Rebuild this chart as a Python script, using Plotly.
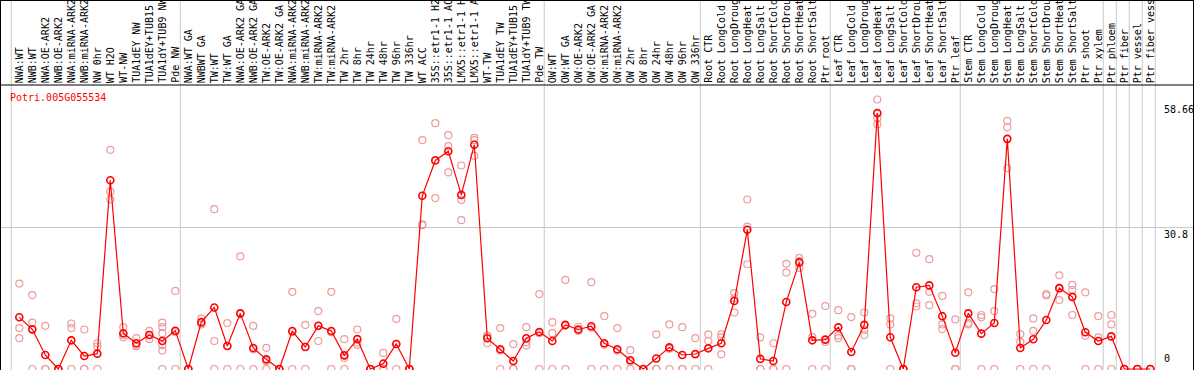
import plotly.graph_objects as go

# ---------------- data ----------------
gene_id = "Potri.005G055534"

labels = [
    "NWA:WT", "NWB:WT", "NWA:OE-ARK2", "NWB:OE-ARK2", "NWA:miRNA-ARK2", "NWB:miRNA-ARK2",
    "NW 0hr", "WT H2O", "WT-NW", "TUA1dEY NW", "TUA1dEY+TUB15", "TUA1dY+TUB9 NW", "Pde NW",
    "NWA:WT GA", "NWBWT GA", "TW:WT", "TW:WT GA", "NWA:OE-ARK2 GA", "NWB:OE-ARK2 GA",
    "TW:OE-ARK2", "TW:OE-ARK2 GA", "NWA:miRNA-ARK2", "NWB:miRNA-ARK2", "TW:miRNA-ARK2",
    "TW:miRNA-ARK2", "TW 2hr", "TW 8hr", "TW 24hr", "TW 48hr", "TW 96hr", "TW 336hr",
    "WT ACC", "35S::etr1-1 H2O", "35S::etr1-1 ACC", "LMX5::etr1-1 H2O", "LMX5::etr1-1 ACC",
    "WT-TW", "TUA1dEY TW", "TUA1dEY+TUB15", "TUA1dY+TUB9 TW", "Pde TW",
    "OW:WT", "OW:WT GA", "OW:OE-ARK2", "OW:OE-ARK2 GA", "OW:miRNA-ARK2", "OW:miRNA-ARK2",
    "OW 2hr", "OW 8hr", "OW 24hr", "OW 48hr", "OW 96hr", "OW 336hr",
    "Root CTR", "Root LongCold", "Root LongDrought", "Root LongHeat", "Root LongSalt",
    "Root ShortCold", "Root ShortDrought", "Root ShortHeat", "Root ShortSalt", "Ptr root",
    "Leaf CTR", "Leaf LongCold", "Leaf LongDrought", "Leaf LongHeat", "Leaf LongSalt",
    "Leaf ShortCold", "Leaf ShortDrought", "Leaf ShortHeat", "Leaf ShortSalt", "Ptr leaf",
    "Stem CTR", "Stem LongCold", "Stem LongDrought", "Stem LongHeat", "Stem LongSalt",
    "Stem ShortCold", "Stem ShortDrought", "Stem ShortHeat", "Stem ShortSalt", "Ptr shoot",
    "Ptr xylem", "Ptr phloem", "Ptr fiber", "Ptr vessel", "Ptr fiber vessel",
]

group_sizes = [13, 28, 12, 10, 10, 11, 1, 1, 1, 1]

means = [
    11.25, 8.63, 3.05, 0, 6.24, 2.83, 3.34, 41.1, 7.77, 5.59, 7.4, 6.1, 8.34, 0,
    10.2, 13.4, 5.0, 12.1, 4.57, 2.1, 0, 8.27, 4.8, 9.4, 8.27, 2.97, 6.5, 0, 1.16,
    5.44, 0, 37.7, 45.4, 47.4, 37.9, 48.8, 6.68, 4.3, 1.74, 6.68, 8.05, 6.1, 9.6, 8.6,
    9.3, 5.6, 4.3, 1.9, 0, 2.3, 4.7, 3.05, 3.27, 4.5, 5.6, 14.8, 30.3, 2.2, 1.74,
    14.6, 23.2, 6.24, 6.4, 9.07, 3.7, 9.6, 55.7, 6.9, 0, 17.8, 18.2, 11.5, 3.55, 12.1,
    7.7, 10.0, 50.1, 4.57, 6.46, 10.67, 17.6, 15.7, 8.0, 6.1, 7.1, 0, 0, 0,
]

replicates = [
    [18.6, 8.9, 6.7], [16.1, 10.1, 0], [9.4, 0, 0], [0, 0, 0], [9.9, 8.9, 0],
    [8.6, 0, 0], [5.6, 4.9, 0], [47.7, 38.6, 36.9], [9.1, 7.4, 6.9], [6.7, 5.2, 4.9],
    [8.3, 7.4, 6.5], [10.1, 9.1, 7.8, 5.2, 4.0, 0], [17.0, 8.0, 0], [0, 0, 0],
    [11.0, 9.7, 9.9], [34.8, 6.1, 0], [10.0, 5.0, 0], [24.5, 12.0, 0], [9.4, 4.3, 0],
    [4.6, 1.7, 0], [0, 0, 0], [16.8, 8.0, 0], [9.6, 4.8, 0], [12.6, 9.4, 6.1],
    [16.8, 8.0, 0], [6.5, 2.4, 0], [8.6, 5.7, 5.2], [0, 0, 0], [3.5, 0, 0],
    [10.9, 5.4, 0], [0, 0, 0], [49.8, 31.5, 31.3], [53.5, 45.5, 37.2], [50.9, 48.5, 42.8],
    [44.3, 36.8, 32.4], [50.3, 49.8, 46.4], [7.25, 7.2, 5.6], [8.9, 4.0, 0], [5.4, 0, 0],
    [9.1, 5.8, 5.1], [16.3, 7.8, 0], [10.2, 7.8, 0], [19.4, 9.4, 0], [9.2, 8.4, 8.3],
    [18.9, 9.0, 0], [11.5, 5.3, 0], [8.9, 4.0, 0], [4.1, 1.6, 0], [0, 0, 0],
    [7.55, 0, 0], [9.7, 4.4, 0], [9.1, 0, 0], [6.7, 3.1, 0], [7.55, 6.1, 0],
    [7.55, 6.9, 3.2], [16.5, 15.4, 12.3], [36.9, 31.0, 22.8], [6.9, 0, 0], [5.6, 0, 0],
    [22.9, 21.0, 0], [24.2, 23.5, 22.0], [12.0, 7.0, 0], [13.7, 5.9, 0], [12.8, 7.25, 6.7],
    [11.3, 0, 0], [12.3, 8.5, 7.4], [58.66, 54.6, 53.3], [11.0, 9.7, 0], [0, 0, 0],
    [25.3, 14.3, 13.6], [23.9, 16.8, 13.9], [15.9, 9.7, 8.7], [10.8, 0, 0], [16.7, 9.7, 10.0],
    [11.75, 11.25, 0], [17.4, 12.6, 0], [54.0, 52.6, 43.7], [7.6, 5.9, 0], [11.0, 8.3, 0],
    [16.3, 16.0, 0], [20.4, 17.5, 15.0], [18.3, 17.2, 11.75], [16.7, 7.25, 0], [11.5, 6.9, 0],
    [11.75, 9.7, 0], [0, 0, 0], [0, 0, 0], [0, 0, 0],
]

ytick_vals = [58.66, 30.8, 0]
grid_vals = [30.8]

# ---------------- figure ----------------
W, H = 1194, 370
PLOT_TOP_PX = 85
dom_top = 1 - PLOT_TOP_PX / H
FONT = "DejaVu Sans Mono"
RED = "#FF0000"
PINK = "#EC9C9C"
GRID = "#C8C8C8"

idx = list(range(len(means)))
rx, ry = [], []
for i, reps in enumerate(replicates):
    for v in reps:
        rx.append(i)
        ry.append(v)

fig = go.Figure()
fig.add_trace(go.Scatter(
    x=rx, y=ry, mode="markers",
    marker=dict(symbol="circle-open", size=7, color=PINK, line=dict(width=1.2, color=PINK)),
    hoverinfo="skip", showlegend=False,
))
fig.add_trace(go.Scatter(
    x=idx, y=means, mode="lines+markers",
    line=dict(color=RED, width=1.2),
    marker=dict(symbol="circle-open", size=7, color=RED, line=dict(width=1.6, color=RED)),
    showlegend=False,
))

shapes = []
for g in grid_vals:
    shapes.append(dict(type="line", xref="paper", yref="y", x0=0, x1=1, y0=g, y1=g,
                       line=dict(color=GRID, width=1), layer="below"))
bounds = [-0.62]
acc = 0
for s in group_sizes:
    acc += s
    bounds.append(acc - 1 + 0.38)
for b in bounds:
    shapes.append(dict(type="line", xref="x", yref="paper", x0=b, x1=b, y0=0, y1=1,
                       line=dict(color=GRID, width=1), layer="below"))
shapes.append(dict(type="line", xref="paper", yref="paper", x0=0, x1=1, y0=dom_top, y1=dom_top,
                   line=dict(color="black", width=1)))
shapes.append(dict(type="line", xref="paper", yref="paper", x0=0, x1=1, y0=1, y1=1,
                   line=dict(color="black", width=2)))
shapes.append(dict(type="line", xref="paper", yref="paper", x0=0, x1=0, y0=0, y1=1,
                   line=dict(color="black", width=2)))
shapes.append(dict(type="line", xref="paper", yref="paper", x0=1, x1=1, y0=0, y1=1,
                   line=dict(color="black", width=2)))

annotations = []
for i, lab in enumerate(labels):
    annotations.append(dict(
        x=i, y=dom_top, xref="x", yref="paper", text=lab, showarrow=False,
        textangle=-90, xanchor="center", yanchor="bottom", yshift=0,
        font=dict(family=FONT, size=10, color="black"),
    ))
annotations.append(dict(
    x=8 / W, y=1 - 97 / H, xref="paper", yref="paper", text=gene_id, showarrow=False,
    xanchor="left", yanchor="middle", font=dict(family=FONT, size=10, color=RED),
))
for v in ytick_vals:
    txt = f"{v:g}"
    annotations.append(dict(
        x=1162 / W, y=v, xref="paper", yref="y", text=txt, showarrow=False,
        xanchor="left", yanchor="bottom" if v == 0 else "top",
        yshift=3 if v == 0 else (-2 if v == ytick_vals[0] else 1),
        font=dict(family=FONT, size=10, color="black"),
    ))

fig.update_layout(
    width=W, height=H, autosize=False,
    margin=dict(l=0, r=0, t=0, b=0),
    paper_bgcolor="white", plot_bgcolor="white",
    xaxis=dict(range=[-1.485, 90.362], showgrid=False, zeroline=False,
               showticklabels=False, ticks="", showline=False, fixedrange=True),
    yaxis=dict(range=[-0.218, 61.82], domain=[0, dom_top], showgrid=False, zeroline=False,
               showticklabels=False, ticks="", showline=False, fixedrange=True),
    shapes=shapes, annotations=annotations,
)

fig.write_html(
    "out.html",
    config={"displayModeBar": False},
    post_script="document.body.style.margin='0';document.body.style.padding='0';"
                "document.body.style.overflow='hidden';",
)
